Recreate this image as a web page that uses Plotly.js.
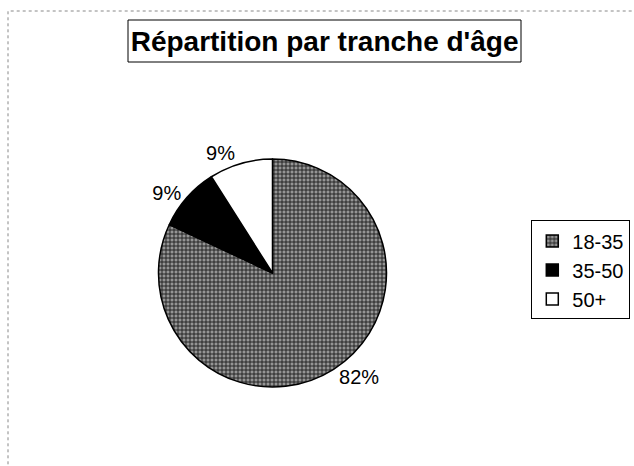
<!DOCTYPE html>
<html>
<head>
<meta charset="utf-8">
<script src="https://cdn.plot.ly/plotly-3.0.1.min.js"></script>
<style>html,body{margin:0;padding:0;background:#fff;}#chart{width:634px;height:466px;}</style>
</head>
<body>
<div id="chart"></div>
<script>
const categories = ["18-35", "35-50", "50+"];
const shares = [82, 9, 9];
const sliceColors = ["#8c8c8c", "#000000", "#ffffff"];
const chartTitle = "Répartition par tranche d'âge";

const trace = {
  type: "pie",
  labels: categories,
  values: shares,
  sort: false,
  direction: "clockwise",
  rotation: 0,
  textinfo: "percent",
  textposition: "outside",
  texttemplate: "%{percent:.0%}",
  outsidetextfont: {family: "Liberation Sans, Arial, sans-serif", size: 20, color: "#000"},
  marker: {
    colors: sliceColors,
    line: {color: "#000", width: 1.5},
    pattern: {shape: ["+", "", ""], fgcolor: "#1a1a1a", bgcolor: "#959595", size: 4, solidity: 0.4}
  },
  domain: {x: [0.2476, 0.612], y: [0.1695, 0.6588]},
  hoverinfo: "label+percent"
};

const layout = {
  width: 634, height: 466,
  margin: {l: 0, r: 0, t: 0, b: 0},
  paper_bgcolor: "#fff",
  font: {family: "Liberation Sans, Arial, sans-serif", color: "#000"},
  title: {
    text: "<b>" + chartTitle + "</b>",
    font: {family: "Liberation Sans, Arial, sans-serif", size: 28, color: "#000"},
    x: 0.512, xref: "paper", xanchor: "center",
    y: 0.912, yref: "paper", yanchor: "middle"
  },
  showlegend: true,
  legend: {
    x: 0.838, xanchor: "left", y: 0.527, yanchor: "top",
    bordercolor: "#000", borderwidth: 1,
    font: {family: "Liberation Sans, Arial, sans-serif", size: 20, color: "#000"},
    itemwidth: 30, tracegroupgap: 0
  },
  shapes: [
    {type: "rect", xref: "paper", yref: "paper", x0: 128/634, x1: 521/634, y0: 1-62/466, y1: 1-20/466,
     line: {color: "#000", width: 1}},
    {type: "rect", xref: "paper", yref: "paper", x0: 8/634, x1: 1.05, y0: -0.05, y1: 1-11/466,
     line: {color: "#888", width: 1, dash: "dot"}}
  ]
};

Plotly.newPlot("chart", [trace], layout, {displayModeBar: false, staticPlot: true});
</script>
</body>
</html>
